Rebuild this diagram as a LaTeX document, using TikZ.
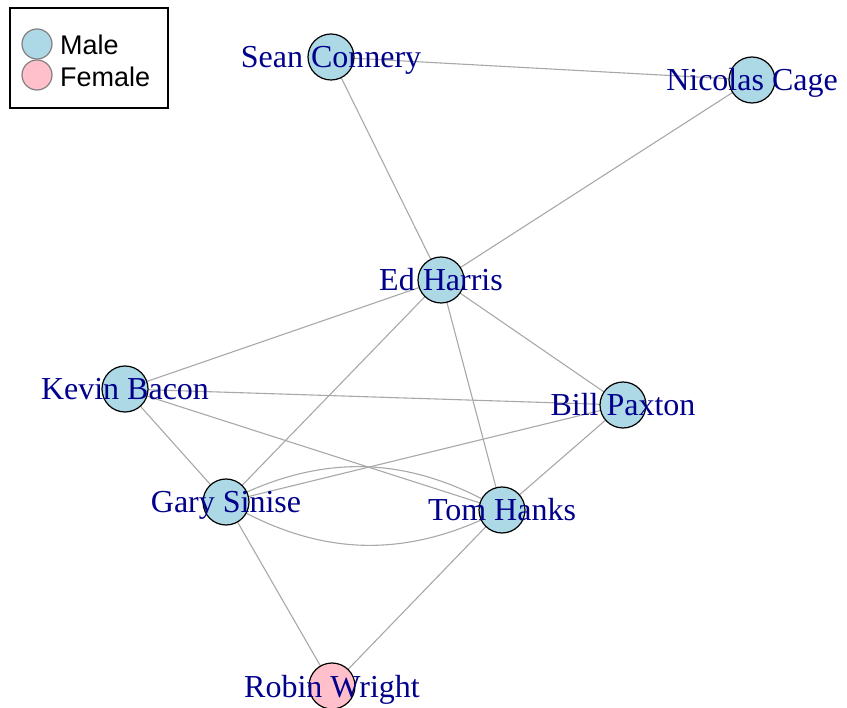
\documentclass[tikz,border=0pt]{standalone}
\usepackage{fontspec}
\setmainfont{Liberation Serif}
\newfontfamily\legendfont{Liberation Sans}
\definecolor{vblue}{HTML}{ADD8E6}
\definecolor{vpink}{HTML}{FFC0CB}
\definecolor{labelblue}{HTML}{00008B}
\definecolor{edgegray}{HTML}{A8A8A8}
\begin{document}
\begin{tikzpicture}[x=1pt,y=-1pt,
  edge/.style={draw=edgegray,line width=1.1pt},
  vertex/.style={circle,draw=black,line width=1.2pt,minimum size=46pt,inner sep=0pt,fill=vblue},
  vlabel/.style={anchor=base,text=labelblue,font=\fontsize{32}{36}\selectfont,inner sep=0pt},
  legendkey/.style={circle,draw=gray,line width=1.2pt,minimum size=30pt,inner sep=0pt},
  legendtext/.style={anchor=base west,font=\legendfont\fontsize{27}{30}\selectfont,inner sep=0pt}]
\useasboundingbox (0,0) rectangle (847,708);

% vertex positions
\coordinate (sc) at (331,57);
\coordinate (nc) at (752,80);
\coordinate (eh) at (441,280);
\coordinate (kb) at (125,389);
\coordinate (bp) at (623,405);
\coordinate (gs) at (226,502);
\coordinate (th) at (502,510);
\coordinate (rw) at (332,686);

% edges
\draw[edge] (sc) -- (nc);
\draw[edge] (sc) -- (eh);
\draw[edge] (nc) -- (eh);
\draw[edge] (eh) -- (kb);
\draw[edge] (eh) -- (gs);
\draw[edge] (eh) -- (th);
\draw[edge] (eh) -- (bp);
\draw[edge] (kb) -- (bp);
\draw[edge] (kb) -- (gs);
\draw[edge] (kb) -- (th);
\draw[edge] (gs) -- (bp);
\draw[edge] (gs) to[bend left=29] (th);
\draw[edge] (gs) to[bend right=29] (th);
\draw[edge] (bp) -- (th);
\draw[edge] (gs) -- (rw);
\draw[edge] (th) -- (rw);

% vertices
\node[vertex] (scv) at (sc) {};
\node[vertex] (ncv) at (nc) {};
\node[vertex] (ehv) at (eh) {};
\node[vertex] (kbv) at (kb) {};
\node[vertex] (bpv) at (bp) {};
\node[vertex] (gsv) at (gs) {};
\node[vertex] (thv) at (th) {};
\node[vertex,fill=vpink] (rwv) at (rw) {};

% labels, baseline a little below each vertex centre
\node[vlabel] (scl) at ([yshift=-11pt]sc) {Sean Connery};
\node[vlabel] (ncl) at ([yshift=-11pt]nc) {Nicolas Cage};
\node[vlabel] (ehl) at ([yshift=-11pt]eh) {Ed Harris};
\node[vlabel] (kbl) at ([yshift=-11pt]kb) {Kevin Bacon};
\node[vlabel] (bpl) at ([yshift=-11pt]bp) {Bill Paxton};
\node[vlabel] (gsl) at ([yshift=-11pt]gs) {Gary Sinise};
\node[vlabel] (thl) at ([yshift=-11pt]th) {Tom Hanks};
\node[vlabel] (rwl) at ([yshift=-11pt]rw) {Robin Wright};

% legend
\draw[line width=1.6pt] (10,8) rectangle (168,108);
\node[legendkey,fill=vblue] (mkey) at (37,44) {};
\node[legendkey,fill=vpink] (fkey) at (37,75) {};
\node[legendtext] (mtxt) at (60,55) {Male};
\node[legendtext] (ftxt) at (60,87) {Female};
\end{tikzpicture}
\end{document}
